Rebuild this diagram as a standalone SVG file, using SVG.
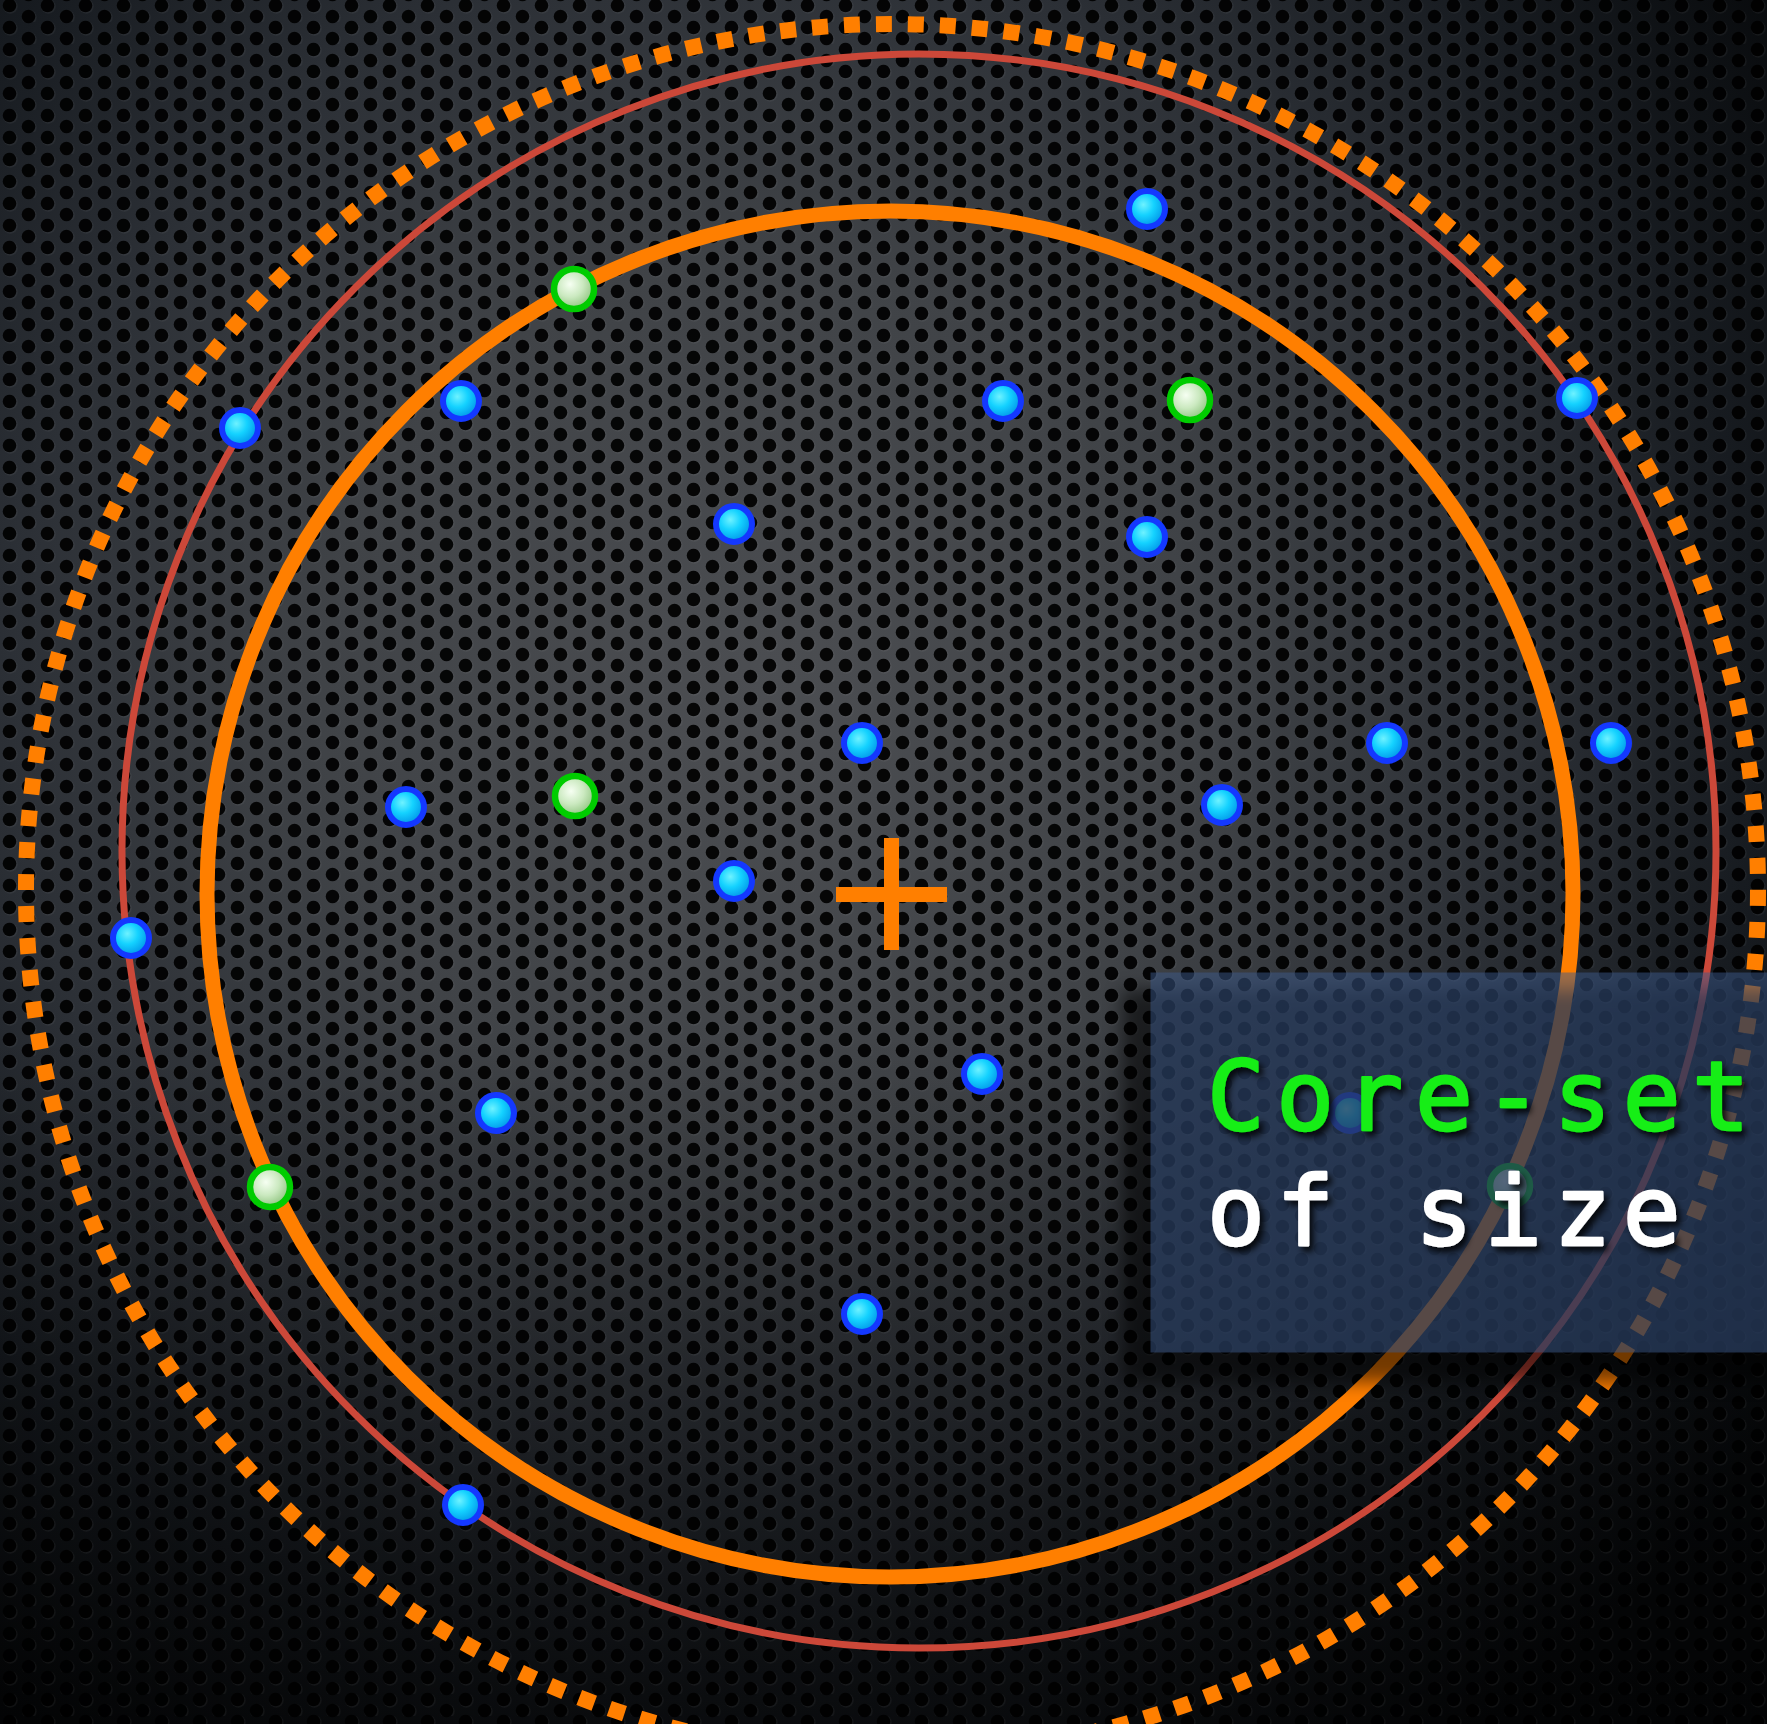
<svg xmlns="http://www.w3.org/2000/svg" width="1767" height="1724" viewBox="0 0 1767 1724">
  <defs>
    <radialGradient id="metal" cx="760" cy="700" r="1250" gradientUnits="userSpaceOnUse">
      <stop offset="0" stop-color="#4c4e52"/>
      <stop offset="0.35" stop-color="#404347"/>
      <stop offset="0.6" stop-color="#2c3036"/>
      <stop offset="0.8" stop-color="#171b20"/>
      <stop offset="1" stop-color="#07090b"/>
    </radialGradient>
    <linearGradient id="bottomShade" x1="0" y1="0" x2="0" y2="1">
      <stop offset="0" stop-color="#000" stop-opacity="0"/>
      <stop offset="0.6" stop-color="#000" stop-opacity="0"/>
      <stop offset="1" stop-color="#000" stop-opacity="0.55"/>
    </linearGradient>
    <pattern id="holes" width="38" height="22" patternUnits="userSpaceOnUse">
      <circle cx="10.3" cy="6.4" r="7.3" fill="#ffffff" fill-opacity="0.05"/>
      <circle cx="29.3" cy="17.4" r="7.3" fill="#ffffff" fill-opacity="0.05"/>
      <circle cx="9.5" cy="5.5" r="6.8" fill="#000"/>
      <circle cx="28.5" cy="16.5" r="6.8" fill="#000"/>
      <circle cx="9.5" cy="27.5" r="6.8" fill="#000"/>
      <circle cx="47.5" cy="5.5" r="6.8" fill="#000"/>
      <circle cx="-9.5" cy="16.5" r="6.8" fill="#000"/>
      <circle cx="28.5" cy="-5.5" r="6.8" fill="#000"/>
    </pattern>
    <radialGradient id="blueFill" cx="0.4" cy="0.38" r="0.65">
      <stop offset="0" stop-color="#6ef2ff"/>
      <stop offset="0.45" stop-color="#14d2ff"/>
      <stop offset="1" stop-color="#0090e6"/>
    </radialGradient>
    <radialGradient id="greenFill" cx="0.4" cy="0.38" r="0.65">
      <stop offset="0" stop-color="#f6fff2"/>
      <stop offset="0.5" stop-color="#cbe9c0"/>
      <stop offset="1" stop-color="#8cc27c"/>
    </radialGradient>
    <filter id="blur8" x="-20%" y="-20%" width="140%" height="140%">
      <feGaussianBlur stdDeviation="9"/>
    </filter>
    <filter id="blur2" x="-5%" y="-200%" width="110%" height="500%">
      <feGaussianBlur stdDeviation="2"/>
    </filter>
    <filter id="txtShadow" x="-10%" y="-30%" width="120%" height="160%">
      <feDropShadow dx="4" dy="5" stdDeviation="3" flood-color="#000" flood-opacity="0.85"/>
    </filter>
    <style>
      .blue { fill: url(#blueFill); stroke: #1438ff; stroke-width: 6; }
      .green { fill: url(#greenFill); stroke: #00cc00; stroke-width: 6.5; }
      .label { font-family: "DejaVu Sans Mono", "Liberation Mono", monospace; font-size: 96px; letter-spacing: 11.5px; stroke-width: 2.5; stroke-linejoin: round; }
    </style>
  </defs>

  <g id="background">
    <rect x="0" y="0" width="1767" height="1724" fill="url(#metal)"/>
    <rect x="0" y="0" width="1767" height="1724" fill="url(#bottomShade)"/>
    <rect x="0" y="0" width="1767" height="1724" fill="url(#holes)" opacity="0.92"/>
  </g>

  <g id="circles" fill="none">
    <circle id="dotted-circle" cx="892" cy="890" r="866" stroke="#ff7f00" stroke-width="16" stroke-dasharray="16 16.003"/>
    <circle id="red-circle" cx="919" cy="851" r="797" stroke="#cc4839" stroke-width="7"/>
    <circle id="orange-circle" cx="890" cy="894" r="683" stroke="#ff7f00" stroke-width="15"/>
  </g>

  <g id="center-plus" stroke="#ff7f00" stroke-width="15">
    <line x1="891.5" y1="838" x2="891.5" y2="950"/>
    <line x1="836" y1="894.5" x2="947" y2="894.5"/>
  </g>

  <g id="points">
    <circle id="b1" class="blue" cx="1147" cy="209" r="18"/>
    <circle id="b2" class="blue" cx="240" cy="428" r="18"/>
    <circle id="b3" class="blue" cx="461" cy="401" r="18"/>
    <circle id="b4" class="blue" cx="1003" cy="401" r="18"/>
    <circle id="b5" class="blue" cx="1577" cy="398" r="18"/>
    <circle id="b6" class="blue" cx="734" cy="524" r="18"/>
    <circle id="b7" class="blue" cx="1147" cy="537" r="18"/>
    <circle id="b8" class="blue" cx="862" cy="743" r="18"/>
    <circle id="b9" class="blue" cx="1387" cy="743" r="18"/>
    <circle id="b10" class="blue" cx="1611" cy="743" r="18"/>
    <circle id="b11" class="blue" cx="406" cy="807" r="18"/>
    <circle id="b12" class="blue" cx="1222" cy="805" r="18"/>
    <circle id="b13" class="blue" cx="734" cy="881" r="18"/>
    <circle id="b14" class="blue" cx="131" cy="938" r="18"/>
    <circle id="b15" class="blue" cx="982" cy="1074" r="18"/>
    <circle id="b16" class="blue" cx="496" cy="1113" r="18"/>
    <circle id="b17" class="blue" cx="862" cy="1314" r="18"/>
    <circle id="b18" class="blue" cx="463" cy="1505" r="18"/>
    <circle id="b19" class="blue" cx="1350" cy="1113" r="18"/>
    <circle id="g1" class="green" cx="574" cy="289" r="20"/>
    <circle id="g2" class="green" cx="1190" cy="400" r="20"/>
    <circle id="g3" class="green" cx="575" cy="796" r="20"/>
    <circle id="g4" class="green" cx="270" cy="1187" r="20"/>
    <circle id="g5" class="green" cx="1510" cy="1186" r="20"/>
  </g>

  <g id="connectors"/>

  <g id="caption">
    <rect x="1122" y="990" width="660" height="392" fill="#000" opacity="0.55" filter="url(#blur8)"/>
    <line x1="1120" y1="1386" x2="1767" y2="1386" stroke="#9aa0a8" stroke-opacity="0.35" stroke-width="3" filter="url(#blur2)"/>
    <rect x="1150.5" y="972.5" width="630" height="380" fill="#3c5a8c" fill-opacity="0.5"/>
    <g filter="url(#txtShadow)">
      <text class="label" x="1207" y="1130" fill="#14ee14" stroke="#14ee14">Core-set</text>
      <text class="label" x="1207" y="1245" fill="#ffffff" stroke="#ffffff">of size</text>
    </g>
  </g>
</svg>
